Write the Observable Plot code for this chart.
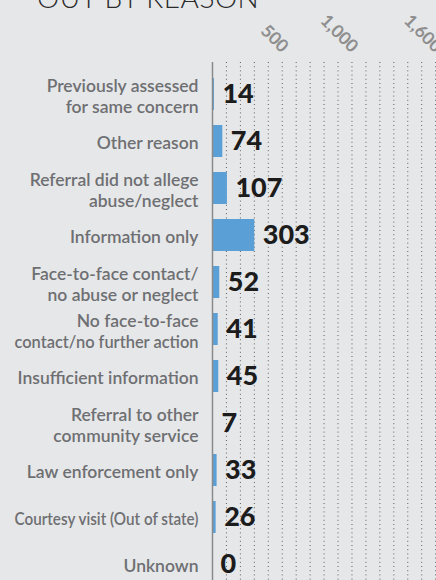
<!DOCTYPE html>
<html>
<head>
<meta charset="utf-8">
<script src="https://cdn.jsdelivr.net/npm/d3@7"></script>
<script src="https://cdn.jsdelivr.net/npm/@observablehq/plot@0.6"></script>
<style>
  html, body { margin: 0; padding: 0; background: #e6e7e9; overflow: hidden; width: 436px; height: 580px; }
  #wrap { position: relative; width: 436px; height: 580px; }
  #title { position: absolute; left: 37px; top: -20px; font-family: Lato, sans-serif; font-weight: 300; font-size: 28px; color: #2b2b2b; letter-spacing: 0.5px; white-space: nowrap; }
  #chart { position: absolute; left: 0; top: 0; }
  svg { overflow: visible; }
</style>
</head>
<body>
<div id="wrap">
  <div id="title">OUT BY REASON</div>
  <div id="chart"></div>
</div>
<script>
const categories = [
  "Previously assessed\nfor same concern",
  "Other reason",
  "Referral did not allege\nabuse/neglect",
  "Information only",
  "Face-to-face contact/\nno abuse or neglect",
  "No face-to-face\ncontact/no further action",
  "Insufficient information",
  "Referral to other\ncommunity service",
  "Law enforcement only",
  "Courtesy visit (Out of state)",
  "Unknown"
];
const values = [14, 74, 107, 303, 52, 41, 45, 7, 33, 26, 0];
const tickValues = [500, 1000, 1600];
const tickLabels = ["500", "1,000", "1,600"];
const gridValues = [100,200,300,400,500,600,700,800,900,1000,1100,1200,1300,1400,1500,1600];

const rows = categories.map((c, i) => ({category: c, value: values[i]}));
const ticks = tickValues.map((v, i) => ({value: v, label: tickLabels[i]}));

const chart = Plot.plot({
  width: 436,
  height: 600,
  marginLeft: 212,
  marginRight: 0,
  marginTop: 62,
  marginBottom: 0,
  style: {background: "transparent", overflow: "visible"},
  x: {domain: [0, 1606], axis: null},
  y: {domain: categories, range: [67.8, 591], paddingInner: 0.312, paddingOuter: 0.156, axis: null},
  marks: [
    Plot.gridX(gridValues, {stroke: "#5e5e5e", strokeOpacity: 1, strokeWidth: 1, strokeDasharray: "1,3.2"}),
    Plot.barX(rows, {x: "value", y: "category", fill: "#5a9fd6"}),
    Plot.ruleX([0], {stroke: "#8a8a8a", strokeWidth: 1.5}),
    Plot.text(rows, {x: 0, y: "category", text: "category", textAnchor: "end", dx: -14, dy: 1,
      className: "catlabels",
      fontFamily: "Lato, sans-serif", fontSize: 17.5, fontWeight: 600, fill: "#6e6f72", lineHeight: 1.2}),
    Plot.text(rows, {x: "value", y: "category", text: d => String(d.value), textAnchor: "start", dx: 8,
      fontFamily: "Lato, sans-serif", fontSize: 27, fontWeight: 900, fill: "#1c1c1c"}),
    Plot.text(ticks, {x: "value", frameAnchor: "top", text: "label", rotate: 45, textAnchor: "end",
      lineAnchor: "middle", dx: 3, dy: -13,
      fontFamily: "Lato, sans-serif", fontSize: 17.5, fontWeight: 700, fill: "#8e8e8e"})
  ]
});
document.getElementById("chart").appendChild(chart);

// Long label lines are squeezed to a maximum width, as in the original layout.
const maxLabelWidth = 184;
chart.querySelectorAll("g.catlabels text").forEach(t => {
  const spans = t.querySelectorAll("tspan");
  const parts = spans.length ? Array.from(spans) : [t];
  parts.forEach(p => {
    const w = p.getComputedTextLength();
    if (w > maxLabelWidth) {
      p.setAttribute("textLength", maxLabelWidth);
      p.setAttribute("lengthAdjust", "spacingAndGlyphs");
    }
  });
});
</script>
</body>
</html>
